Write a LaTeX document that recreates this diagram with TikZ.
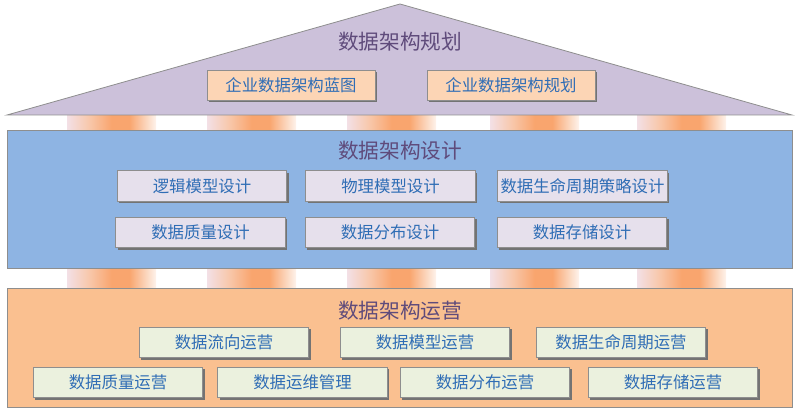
\documentclass[tikz,border=0pt]{standalone}
\usepackage{fontspec}
\setmainfont{Noto Sans CJK SC}
\usetikzlibrary{shadows}

\definecolor{roofbg}{HTML}{CCC1DA}
\definecolor{designbg}{HTML}{8EB4E3}
\definecolor{opsbg}{HTML}{FAC090}
\definecolor{peach}{HTML}{FCD5B5}
\definecolor{lilac}{HTML}{E6E0EC}
\definecolor{mint}{HTML}{EBF1DE}
\definecolor{itemtext}{HTML}{2F6DB5}
\definecolor{headtext}{HTML}{5F4B7B}
\definecolor{edge}{HTML}{8E8E8E}
\definecolor{pilA}{HTML}{F3E0E6}
\definecolor{pilB}{HTML}{F8C6A8}
\definecolor{pilC}{HTML}{F9A56E}
\definecolor{pilD}{HTML}{FBD9C2}
\definecolor{pilE}{HTML}{FEF3EC}
\pgfdeclarehorizontalshading{pillar}{100bp}{color(0bp)=(pilA); color(25bp)=(pilA); color(38bp)=(pilB); color(50bp)=(pilC); color(60bp)=(pilC); color(70bp)=(pilD); color(75bp)=(pilE); color(100bp)=(pilE)}

\begin{document}
\begin{tikzpicture}[
  x=0.75pt, y=-0.75pt,
  item/.style={rectangle, draw=edge, line width=0.6pt, minimum width=127pt,
               minimum height=23pt, inner sep=0pt, text=itemtext,
               font=\fontsize{12.3}{14}\selectfont,
               drop shadow={shadow xshift=1.6pt, shadow yshift=-1.6pt,
                            fill=black!55, opacity=1}},
  plan/.style={item, fill=peach, minimum width=126pt, minimum height=22.5pt},
  design/.style={item, fill=lilac},
  ops/.style={item, fill=mint},
  layer/.style={rectangle, draw=edge, line width=0.6pt,
                minimum width=588.75pt, inner sep=0pt},
  head/.style={text=headtext, font=\fontsize{15.5}{18}\selectfont}]
  \useasboundingbox (0,0) rectangle (800,416);

  % pillars
  \foreach \x in {67,207,347,490,637}{
    \shade[shading=pillar] (\x,115) rectangle ++(89,15);
    \shade[shading=pillar] (\x,268) rectangle ++(89,20);
  }

  % roof
  \draw[edge, line width=0.6pt, fill=roofbg] (7,115) -- (400,4) -- (792,115) -- cycle;
  \node[head] (planhead) at (400,42) {数据架构规划};
  \node[plan] (blueprint) at (291,85) {企业数据架构蓝图};
  \node[plan] (planning) at (511,85) {企业数据架构规划};

  % design layer
  \node[layer, fill=designbg, minimum height=103.5pt] (design) at (399.5,199) {};
  \node[head] (designhead) at (400,151) {数据架构设计};
  \node[design] (logic) at (202,186) {逻辑模型设计};
  \node[design] (physic) at (390.5,186) {物理模型设计};
  \node[design] (life) at (582.5,186) {数据生命周期策略设计};
  \node[design] (quality) at (200.5,232.5) {数据质量设计};
  \node[design] (distrib) at (390,232.5) {数据分布设计};
  \node[design] (storage) at (582,232.5) {数据存储设计};

  % operations layer
  \node[layer, fill=opsbg, minimum height=89.25pt] (ops) at (399.5,347.5) {};
  \node[head] (opshead) at (400,311) {数据架构运营};
  \node[ops] (flowops) at (224,342.5) {数据流向运营};
  \node[ops] (modelops) at (425,342.5) {数据模型运营};
  \node[ops] (lifeops) at (621,342.5) {数据生命周期运营};
  \node[ops] (qualops) at (118,382.5) {数据质量运营};
  \node[ops] (maintops) at (302.5,382.5) {数据运维管理};
  \node[ops] (distops) at (485,382.5) {数据分布运营};
  \node[ops] (storeops) at (673,382.5) {数据存储运营};
\end{tikzpicture}
\end{document}
